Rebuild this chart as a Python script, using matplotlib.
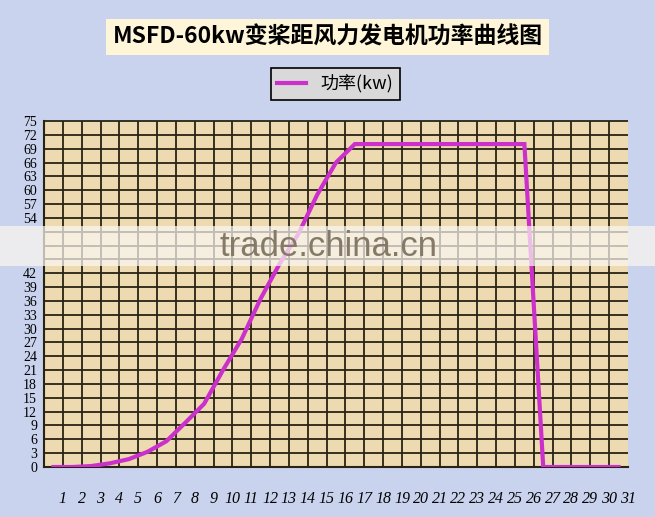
import numpy as np
import matplotlib
matplotlib.use('Agg')
import matplotlib.pyplot as plt
from matplotlib.patches import Rectangle

# data
wind_speed = list(range(1, 32))
power_kw = [0, 0, 0.2, 0.8, 1.7, 3.3, 5.6, 9.6, 13.7, 21.0,
            27.8, 36.5, 44.0, 50.5, 59.0, 66.0, 70, 70, 70, 70,
            70, 70, 70, 70, 70, 70, 0, 0, 0, 0, 0]
y_ticks = list(range(0, 76, 3))
hidden_y = [45, 48, 51]  # covered by the watermark band

title = 'MSFD-60kw变桨距风力发电机功率曲线图'
series_name = '功率(kw)'

W, H = 655, 517
fig = plt.figure(figsize=(W / 100, H / 100), dpi=100)
fig.patch.set_facecolor('#C9D3EE')

ax = fig.add_axes([44 / W, 1 - 467 / H, (628 - 44) / W, (467 - 121) / H])
ax.set_facecolor('#EDDAB1')

# points sit in the middle of each column
x = np.arange(len(power_kw)) + 0.5
ax.plot(x, power_kw, color='#CC30CC', lw=3, label=series_name, zorder=3,
        solid_joinstyle='miter')

ax.set_xlim(0, 31)
ax.set_ylim(0, 75)

grid_col = '#2A2313'
ax.vlines(wind_speed[:-1], 0, 75, color=grid_col, lw=1.3, zorder=2, clip_on=False)
ax.hlines(y_ticks[1:], 0, 31, color=grid_col, lw=1.3, zorder=2, clip_on=False)

for s in ['top', 'right']:
    ax.spines[s].set_visible(False)
for s in ['left', 'bottom']:
    ax.spines[s].set_color(grid_col)
    ax.spines[s].set_linewidth(1.5)

ax.set_xticks(wind_speed)
ax.set_xticklabels([str(v) for v in wind_speed], family='Liberation Serif',
                   style='italic', fontsize=11.5)
ax.set_yticks(y_ticks)
ax.set_yticklabels(['' if v in hidden_y else str(v) for v in y_ticks],
                   family='Liberation Serif', fontsize=10)
ax.tick_params(axis='x', length=0, pad=17)
ax.tick_params(axis='y', length=0, pad=5)

# title box
fig.text(327.5 / W, 1 - 37 / H, title, ha='center', va='center', fontsize=16.5,
         weight='bold', family=['Noto Sans CJK SC', 'DejaVu Sans'],
         bbox=dict(boxstyle='square,pad=0.3', fc='#FFF6DA', ec='none'))

leg = fig.legend(loc='center', bbox_to_anchor=(335.5 / W, 1 - 84 / H),
                 fancybox=False, edgecolor='black', facecolor='#D9D9D9',
                 framealpha=1, handlelength=1.6, borderpad=0.35,
                 prop={'family': ['Noto Sans CJK SC', 'DejaVu Sans'], 'size': 13})
leg.get_frame().set_linewidth(1.2)

# watermark band across the middle
fig.add_artist(Rectangle((0, 1 - 266 / H), 1, 40 / H, transform=fig.transFigure,
                         color='#FAF6F0', alpha=0.72, zorder=5, lw=0))
fig.text(328 / W, 1 - 246 / H, 'trade.china.cn', ha='center', va='center',
         color='#857A68', fontsize=25, family='Liberation Sans', zorder=6)

fig.savefig('out.png', dpi=100, facecolor=fig.get_facecolor())
